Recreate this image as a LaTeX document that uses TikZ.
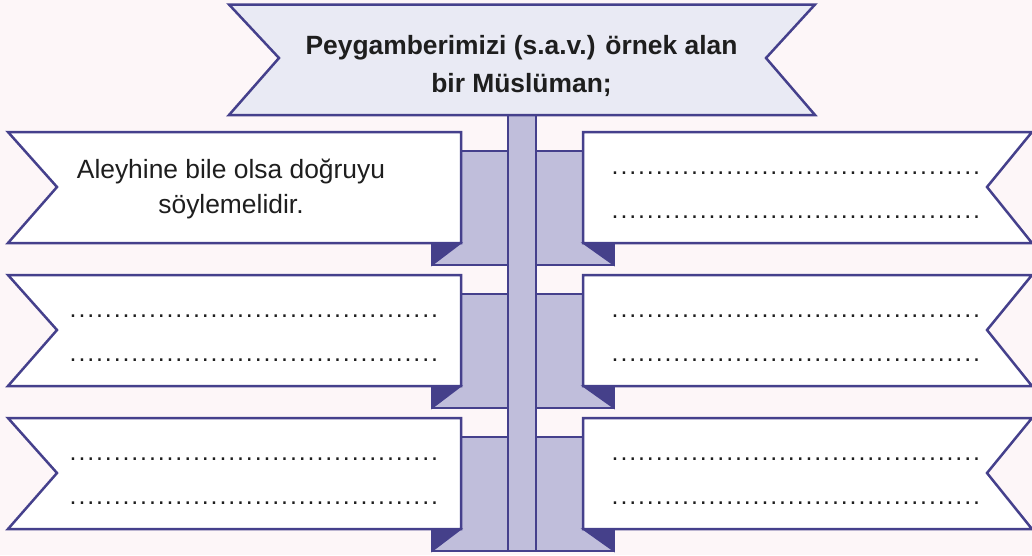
\documentclass[tikz,border=0pt]{standalone}
\usepackage{fontspec}
\setmainfont{Liberation Sans}
\definecolor{bgpink}{HTML}{FDF6F8}
\definecolor{edgeblue}{HTML}{45408C}
\definecolor{lav}{HTML}{C0BEDB}
\definecolor{palelav}{HTML}{E9EAF4}
\definecolor{folddark}{HTML}{45408A}
\definecolor{ink}{HTML}{1E1E1E}
\newcommand\mydotrow{\hbox to 370pt{\xleaders\hbox to 8.8pt{\hss.\hss}\hfill}}
\tikzset{
  outl/.style={draw=edgeblue, line width=2.5pt, line join=miter},
  panelbox/.style={outl, fill=lav},
  ribbon/.style={outl, fill=white},
  foldtri/.style={fill=folddark, draw=edgeblue, line width=1.5pt, line join=miter},
  bodytext/.style={font=\fontsize{26.4}{35}\selectfont, text=ink, align=center, inner sep=0pt},
  titletext/.style={font=\bfseries\fontsize{26.4}{38}\selectfont, text=ink, align=center, inner sep=0pt},
  dotline/.style={font=\fontsize{25}{25}\selectfont, text=ink, inner sep=0pt, anchor=base west}
}
\begin{document}
\begin{tikzpicture}[x=1pt,y=-1pt]
\fill[bgpink] (0,0) rectangle (1032,555);
\useasboundingbox (0,0) rectangle (1032,555);
% back panels
\foreach \T in {132,275,418}{
  \draw[panelbox] (432,\T+19) rectangle (614,\T+133);
}
% stem
\draw[panelbox] (508,110) rectangle (536,551);
% ribbons
\foreach \T/\n in {132/1,275/2,418/3}{
  \draw[ribbon] (8,\T) -- (461,\T) -- (461,\T+111) -- (8,\T+111) -- (57,\T+55) -- cycle;
  \draw[ribbon] (583,\T) -- (1032,\T) -- (987,\T+55) -- (1032,\T+111) -- (583,\T+111) -- cycle;
  \draw[foldtri] (432,\T+111) -- (461,\T+111) -- (432,\T+133) -- cycle;
  \draw[foldtri] (614,\T+111) -- (583,\T+111) -- (614,\T+133) -- cycle;
  \node[dotline] (rd\n a) at (610.6,\T+42.5) {\mydotrow};
  \node[dotline] (rd\n b) at (610.6,\T+86.5) {\mydotrow};
}
\foreach \T/\n in {275/2,418/3}{
  \node[dotline] (ld\n a) at (68.6,\T+42.5) {\mydotrow};
  \node[dotline] (ld\n b) at (68.6,\T+86.5) {\mydotrow};
}
\node[bodytext] (l1) at (231,189) {Aleyhine bile olsa doğruyu\\söylemelidir.};
% title banner
\draw[outl, fill=palelav] (229,4.5) -- (815,4.5) -- (766,58) -- (815,115) -- (229,115) -- (279,58) -- cycle;
\node[titletext] (title) at (521.5,66) {Peygamberimizi (s.a.v.) örnek alan\\bir Müslüman;};
\end{tikzpicture}
\end{document}
